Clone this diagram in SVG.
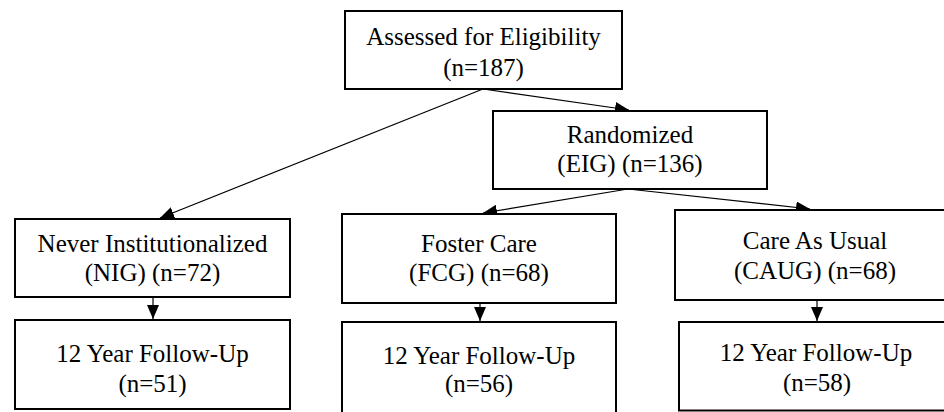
<svg xmlns="http://www.w3.org/2000/svg" width="944" height="412" viewBox="0 0 944 412">
<style>
.box{fill:#fff;stroke:#000;stroke-width:2}
.t{font-family:"Liberation Serif","Times New Roman",serif;font-size:25px;fill:#000;text-anchor:middle}
.c{stroke:#000;stroke-width:1.2;fill:none;marker-end:url(#ah)}
</style>
<defs>
<marker id="ah" viewBox="0 0 14 12" refX="14" refY="6" markerWidth="14" markerHeight="12" markerUnits="userSpaceOnUse" orient="auto">
<path d="M0,0 L14,6 L0,12 Z" fill="#000"/>
</marker>
</defs>
<rect width="944" height="412" fill="#fff"/>
<g id="connectors">
<line class="c" x1="483" y1="89" x2="629" y2="110"/>
<line class="c" x1="483" y1="89" x2="160" y2="218"/>
<line class="c" x1="628" y1="189" x2="483" y2="213"/>
<line class="c" x1="628" y1="189" x2="810" y2="209"/>
<line class="c" x1="153" y1="297" x2="153" y2="319"/>
<line class="c" x1="480" y1="303" x2="480" y2="321"/>
<line class="c" x1="817" y1="300" x2="817" y2="321"/>
</g>
<g id="assessed">
<rect class="box" x="345" y="11" width="277" height="78"/>
<text class="t" x="483.5" y="45">Assessed for Eligibility</text>
<text class="t" x="483.5" y="76">(n=187)</text>
</g>
<g id="randomized">
<rect class="box" x="493" y="111" width="274" height="78"/>
<text class="t" x="630" y="143">Randomized</text>
<text class="t" x="630" y="172">(EIG) (n=136)</text>
</g>
<g id="nig">
<rect class="box" x="15" y="219" width="275" height="78"/>
<text class="t" x="152.5" y="252">Never Institutionalized</text>
<text class="t" x="152.5" y="281">(NIG) (n=72)</text>
</g>
<g id="nig-followup">
<rect class="box" x="15" y="320" width="275" height="89"/>
<text class="t" x="152.5" y="362">12 Year Follow-Up</text>
<text class="t" x="152.5" y="392">(n=51)</text>
</g>
<g id="fcg">
<rect class="box" x="342" y="214" width="274" height="89"/>
<text class="t" x="479" y="252">Foster Care</text>
<text class="t" x="479" y="281">(FCG) (n=68)</text>
</g>
<g id="fcg-followup">
<rect class="box" x="342" y="322" width="274" height="95"/>
<text class="t" x="479" y="364">12 Year Follow-Up</text>
<text class="t" x="479" y="392">(n=56)</text>
</g>
<g id="caug">
<rect class="box" x="675" y="210" width="280" height="90"/>
<text class="t" x="815" y="249">Care As Usual</text>
<text class="t" x="815" y="279">(CAUG) (n=68)</text>
</g>
<g id="caug-followup">
<rect class="box" x="679" y="322" width="280" height="88.5"/>
<text class="t" x="816" y="361">12 Year Follow-Up</text>
<text class="t" x="817" y="391">(n=58)</text>
</g>
</svg>
